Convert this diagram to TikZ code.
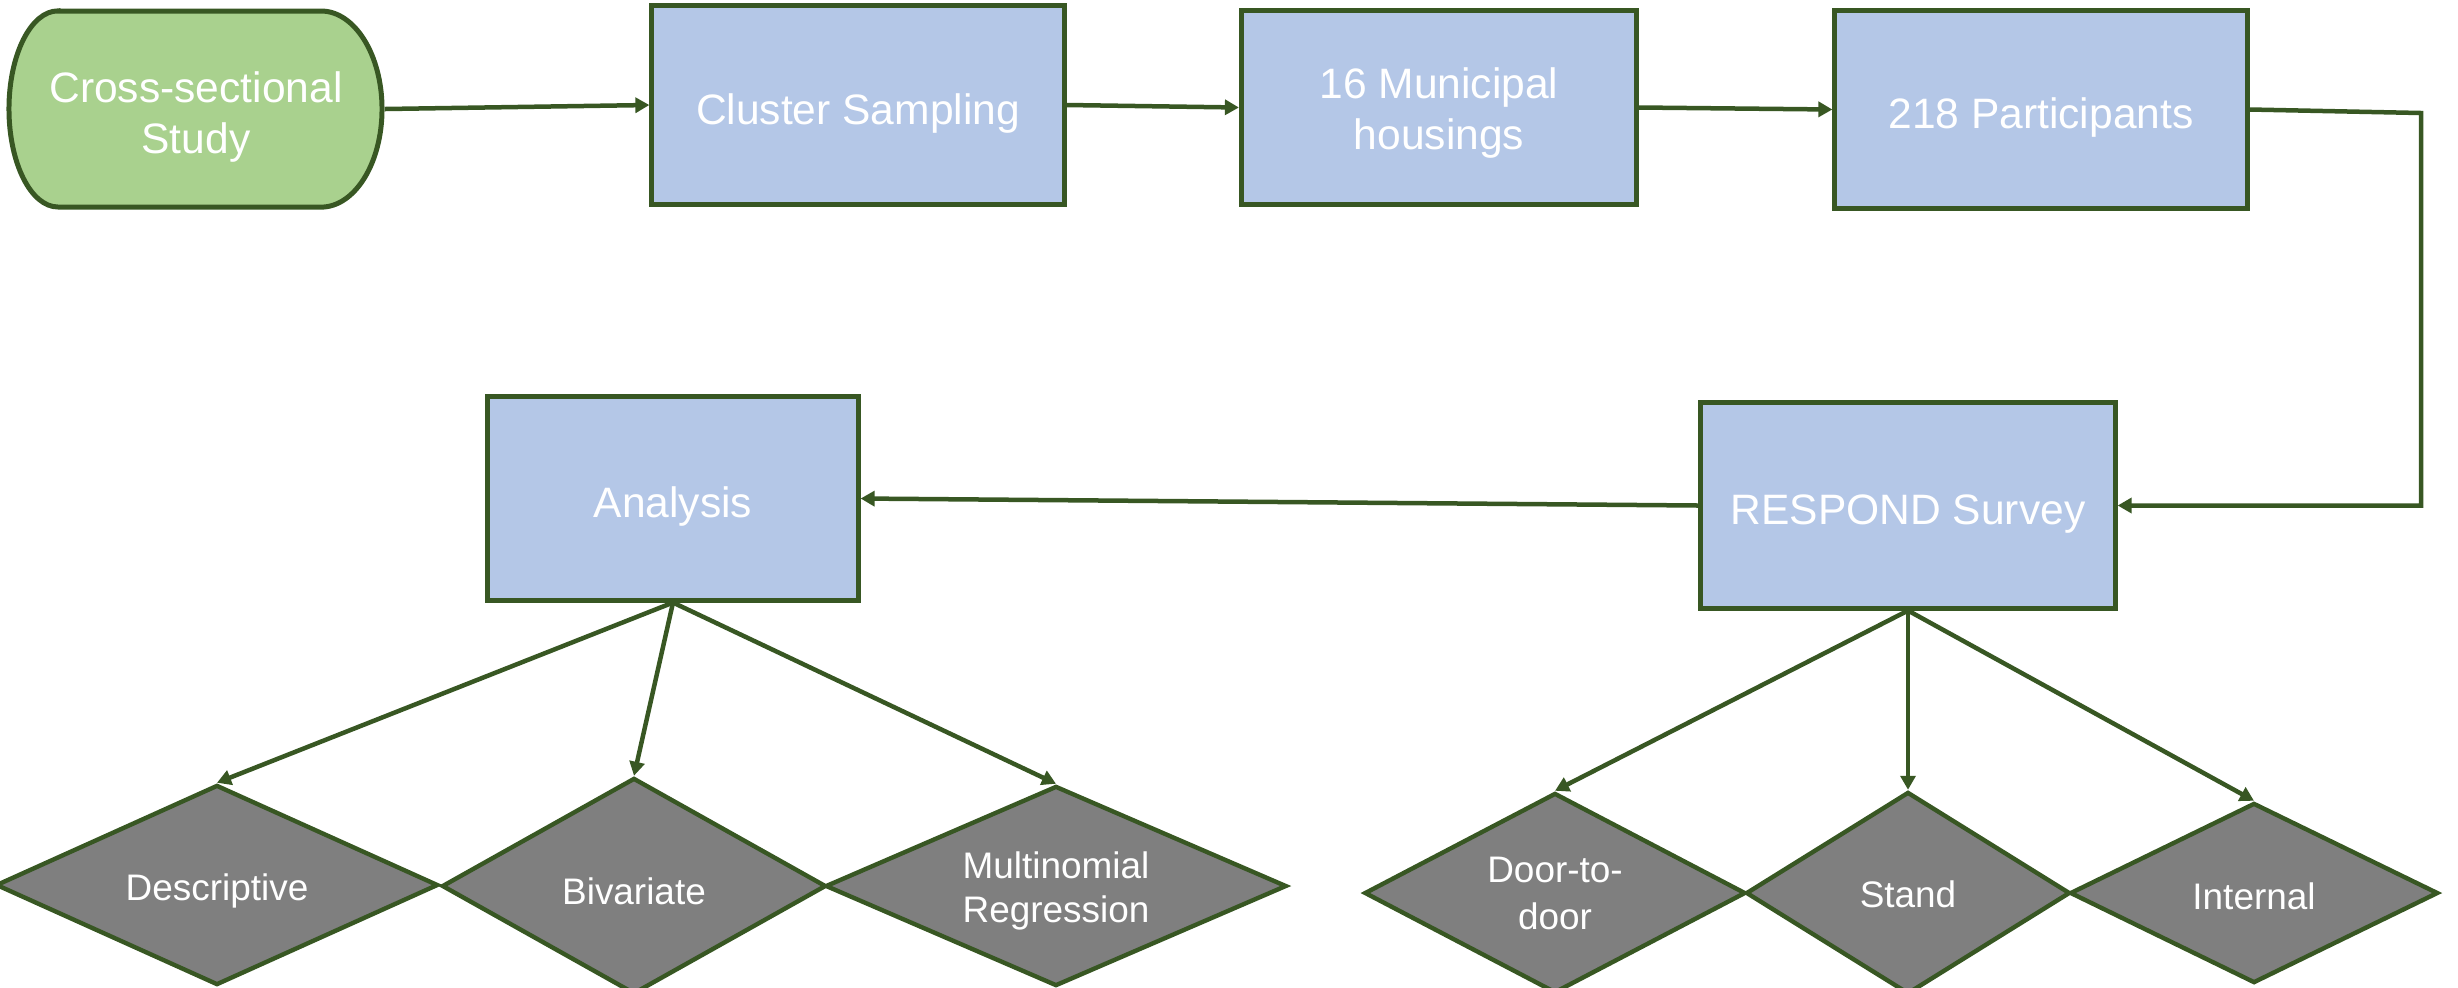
\documentclass[tikz,border=0pt]{standalone}
\usepackage{fontspec}
\setmainfont{Liberation Sans}
\usetikzlibrary{arrows.meta,shapes.geometric}
\definecolor{bord}{HTML}{385723}
\definecolor{greenfill}{HTML}{A9D18E}
\definecolor{bluefill}{HTML}{B4C7E7}
\definecolor{grayfill}{HTML}{7F7F7F}
\begin{document}
\begin{tikzpicture}[x=0.01cm,y=-0.01cm,
  box/.style={draw=bord, line width=1.42pt, fill=bluefill, rectangle, inner sep=0pt},
  startbox/.style={rectangle, line width=1.42pt, inner sep=0pt},
  boxtxt/.style={text=white, align=center, inner sep=0pt, outer sep=0pt,
    font=\fontsize{12.1}{14.3}\selectfont},
  dia/.style={draw=bord, line width=1.25pt, fill=grayfill, diamond, inner sep=0pt},
  diatxt/.style={text=white, align=center, inner sep=0pt, outer sep=0pt,
    font=\fontsize{10.5}{12.6}\selectfont},
  conn/.style={draw=bord, line width=1.28pt, -{Triangle[length=1.4mm,width=1.5mm]}}]
\useasboundingbox (0,0) rectangle (2458,987);
\clip (0,0) rectangle (2458,987);

% start terminator shape
\draw[draw=bord, line width=1.42pt, fill=greenfill]
  (58,11) -- (321,11)
  arc[start angle=90, end angle=-90, x radius=0.61cm, y radius=0.98cm]
  -- (58,207)
  arc[start angle=270, end angle=90, x radius=0.49cm, y radius=0.98cm]
  -- cycle;
\node[startbox, minimum width=3.73cm, minimum height=1.96cm,
  label={[boxtxt, yshift=-0.08cm]center:{Cross-sectional\\Study}}] (cross) at (196,109) {};

\node[box, minimum width=4.12cm, minimum height=1.99cm,
  label={[boxtxt, yshift=-0.08cm]center:{Cluster Sampling}}] (cluster) at (858,105) {};
\node[box, minimum width=3.95cm, minimum height=1.93cm,
  label={[boxtxt, yshift=-0.055cm]center:{16 Municipal\\housings}}] (muni) at (1439,107.5) {};
\node[box, minimum width=4.12cm, minimum height=1.97cm,
  label={[boxtxt, yshift=-0.08cm]center:{218 Participants}}] (part) at (2041,109.5) {};
\node[box, minimum width=3.70cm, minimum height=2.03cm,
  label={[boxtxt, yshift=-0.08cm]center:{Analysis}}] (analysis) at (673,498.5) {};
\node[box, minimum width=4.14cm, minimum height=2.05cm,
  label={[boxtxt, yshift=-0.09cm]center:{RESPOND Survey}}] (respond) at (1908,505.5) {};

\node[dia, minimum width=4.42cm, minimum height=2.00cm,
  label={[diatxt, yshift=-0.06cm]center:{Descriptive}}] (desc) at (217,885) {};
\node[dia, minimum width=3.84cm, minimum height=2.16cm,
  label={[diatxt, yshift=-0.05cm]center:{Bivariate}}] (biv) at (634,886) {};
\node[dia, minimum width=4.61cm, minimum height=2.00cm,
  label={[diatxt, yshift=-0.05cm]center:{Multinomial\\Regression}}] (multi) at (1056,886) {};
\node[dia, minimum width=3.81cm, minimum height=2.00cm,
  label={[diatxt, font=\fontsize{10.5}{13.4}\selectfont, yshift=-0.005cm]center:{Door-to-\\door}}] (door) at (1555,893) {};
\node[dia, minimum width=3.24cm, minimum height=2.02cm,
  label={[diatxt, yshift=-0.015cm]center:{Stand}}] (stand) at (1908,893) {};
\node[dia, minimum width=3.68cm, minimum height=1.80cm,
  label={[diatxt, yshift=-0.03cm]center:{Internal}}] (internal) at (2254,893) {};

\coordinate (c1) at (2421,113);

\draw[conn] (cross.east) -- (cluster.west);
\draw[conn] (cluster.east) -- (muni.west);
\draw[conn] (muni.east) -- (part.west);
\draw[conn] (part.east) -- (c1) |- (respond.east);
\draw[conn] (respond.west) -- (analysis.east);

\draw[conn] (analysis.south) -- (desc.north);
\draw[conn] (analysis.south) -- (biv.north);
\draw[conn] (analysis.south) -- (multi.north);

\draw[conn] (respond.south) -- (door.north);
\draw[conn] (respond.south) -- (stand.north);
\draw[conn] (respond.south) -- (internal.north);
\end{tikzpicture}
\end{document}
